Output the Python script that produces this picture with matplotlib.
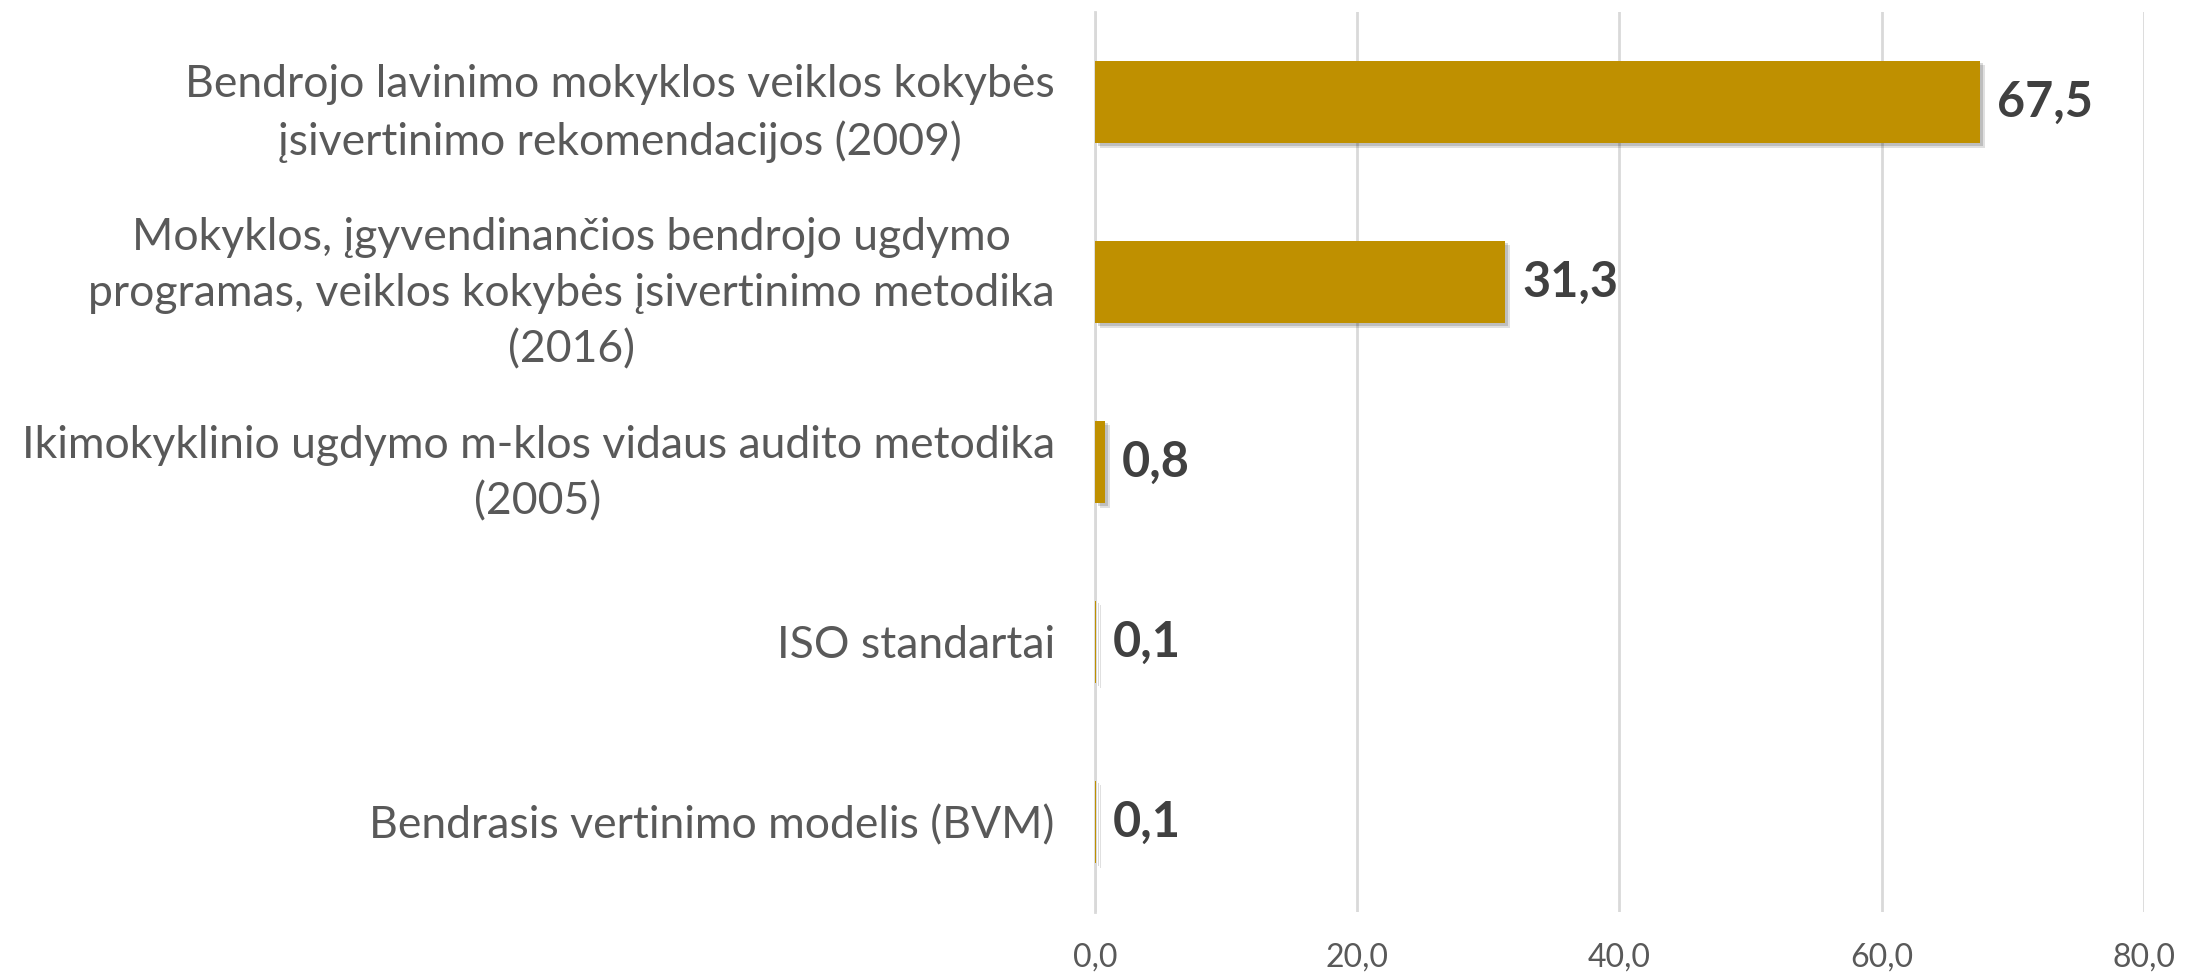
import matplotlib
matplotlib.use("Agg")
import matplotlib.pyplot as plt
from matplotlib import patheffects as pe

categories = [
    "Bendrojo lavinimo mokyklos veiklos kokybės\nįsivertinimo rekomendacijos (2009)",
    "Mokyklos, įgyvendinančios bendrojo ugdymo\nprogramas, veiklos kokybės įsivertinimo metodika\n(2016)",
    "Ikimokyklinio ugdymo m-klos vidaus audito metodika\n(2005)",
    "ISO standartai",
    "Bendrasis vertinimo modelis (BVM)",
]
values = [67.5, 31.3, 0.8, 0.1, 0.1]
xticks = [0, 20, 40, 60, 80]

plt.rcParams['font.family'] = ['Lato', 'DejaVu Sans']

fig = plt.figure(figsize=(21.85, 9.76), dpi=100)
ax = fig.add_axes([0.5011, 0.0656, 0.9812 - 0.5011, 0.9877 - 0.0656])

ypos = list(range(len(categories)))
bars = ax.barh(ypos, values, height=0.46, color='#BF9000', zorder=3)
for b in bars:
    b.set_path_effects([
        pe.SimplePatchShadow(offset=(3.5, -3.5), shadow_rgbFace='#000000', alpha=0.12),
        pe.SimplePatchShadow(offset=(2, -2), shadow_rgbFace='#000000', alpha=0.15),
        pe.Normal()])

ax.set_ylim(len(categories) - 0.5, -0.5)
ax.set_xlim(0, 80)
ax.set_xticks(xticks)
ax.set_xticklabels([f"{t:.1f}".replace('.', ',') for t in xticks], fontsize=23, color='#595959')
ax.set_yticks(ypos)
ax.set_yticklabels(categories, fontsize=32, color='#595959', multialignment='center', linespacing=1.45)
ax.tick_params(axis='y', length=0, pad=29)
ax.tick_params(axis='x', length=0, pad=22)

ax.grid(axis='x', color='#D9D9D9', linewidth=2, zorder=0)
for s in ['top', 'right', 'bottom']:
    ax.spines[s].set_visible(False)
ax.spines['left'].set_color('#D9D9D9')
ax.spines['left'].set_linewidth(2)

for y, v in zip(ypos, values):
    ax.annotate(f"{v:.1f}".replace('.', ','), xy=(v, y), xytext=(12, 0), textcoords='offset points',
                ha='left', va='center', fontsize=35, fontweight='bold', color='#404040')

fig.savefig('out.png', dpi=100)
